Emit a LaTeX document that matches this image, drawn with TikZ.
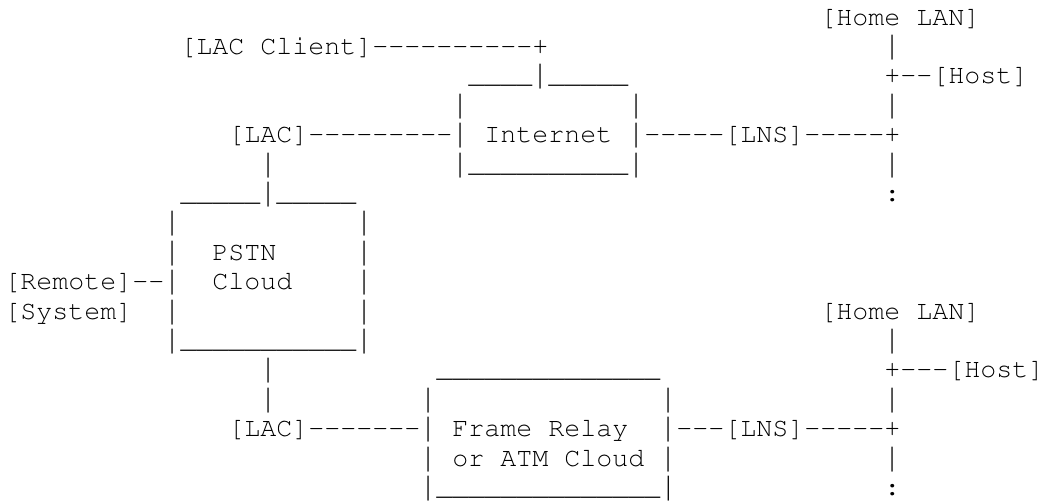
\documentclass[tikz,border=0pt]{standalone}
\usepackage{graphicx}
\usepackage{fontspec}
\newfontfamily\lmono{Liberation Mono}
\usepackage[T1]{fontenc}
\newcommand\cour{\fontencoding{T1}\fontfamily{pcr}\fontseries{m}\fontshape{n}\fontsize{10}{11}\selectfont}
\newcommand\dsh{-{}}
\newcommand\vb{\makebox[6pt]{\scalebox{0.6}[1]{\lmono|}}}
\newcommand\us{{\lmono\_}}
\begin{document}
\begin{tikzpicture}[
  txt/.style={anchor=base west, inner sep=0pt, outer sep=0pt,
    font=\cour, text=black}]
\useasboundingbox[fill=white] (0,0) rectangle (390.75pt,-188.25pt);
\begin{scope}[x=6pt, y=-11.025pt, shift={(1.6pt,-9.375pt)}]
% row 1
\node[txt] (homelanA) at (51,0) {[Home LAN]};
% row 2
\node[txt] (lacclient) at (11,1) {[LAC Client]\dsh\dsh\dsh\dsh\dsh\dsh\dsh\dsh\dsh\dsh+};
\node[txt] (vA1) at (55,1) {\vb};
% row 3
\node[txt] (inettop) at (29,2) {\us\us\us\us\vb\us\us\us\us\us};
\node[txt] (hostA) at (55,2) {+\dsh\dsh[Host]};
% row 4
\node[txt] (inetL1) at (28,3) {\vb};
\node[txt] (inetR1) at (39,3) {\vb};
\node[txt] (vA2) at (55,3) {\vb};
% row 5
\node[txt] (lacA) at (14,4) {[LAC]\dsh\dsh\dsh\dsh\dsh\dsh\dsh\dsh\dsh\vb};
\node[txt] (internet) at (30,4) {Internet};
\node[txt] (lnsA) at (39,4) {\vb\dsh\dsh\dsh\dsh\dsh[LNS]\dsh\dsh\dsh\dsh\dsh+};
% row 6
\node[txt] (vLacA) at (16,5) {\vb};
\node[txt] (inetbot) at (28,5) {\vb\us\us\us\us\us\us\us\us\us\us\vb};
\node[txt] (vA3) at (55,5) {\vb};
% row 7
\node[txt] (pstntop) at (11,6) {\us\us\us\us\us\vb\us\us\us\us\us};
\node[txt] (dotsA) at (55,6) {:};
% row 8
\node[txt] (pstnL1) at (10,7) {\vb};
\node[txt] (pstnR1) at (22,7) {\vb};
% row 9
\node[txt] (pstnL2) at (10,8) {\vb};
\node[txt] (pstn) at (13,8) {PSTN};
\node[txt] (pstnR2) at (22,8) {\vb};
% row 10
\node[txt] (remote) at (0,9) {[Remote]\dsh\dsh\vb};
\node[txt] (cloud) at (13,9) {Cloud};
\node[txt] (pstnR3) at (22,9) {\vb};
% row 11
\node[txt] (system) at (0,10) {[System]};
\node[txt] (pstnL4) at (10,10) {\vb};
\node[txt] (pstnR4) at (22,10) {\vb};
\node[txt] (homelanB) at (51,10) {[Home LAN]};
% row 12
\node[txt] (pstnbot) at (10,11) {\vb\us\us\us\us\us\us\us\us\us\us\us\vb};
\node[txt] (vB1) at (55,11) {\vb};
% row 13
\node[txt] (vLacB1) at (16,12) {\vb};
\node[txt] (frtop) at (27,12) {\us\us\us\us\us\us\us\us\us\us\us\us\us\us};
\node[txt] (hostB) at (55,12) {+\dsh\dsh\dsh[Host]};
% row 14
\node[txt] (vLacB2) at (16,13) {\vb};
\node[txt] (frL1) at (26,13) {\vb};
\node[txt] (frR1) at (41,13) {\vb};
\node[txt] (vB2) at (55,13) {\vb};
% row 15
\node[txt] (lacB) at (14,14) {[LAC]\dsh\dsh\dsh\dsh\dsh\dsh\dsh\vb};
\node[txt] (frame) at (28,14) {Frame Relay};
\node[txt] (lnsB) at (41,14) {\vb\dsh\dsh\dsh[LNS]\dsh\dsh\dsh\dsh\dsh+};
% row 16
\node[txt] (frL3) at (26,15) {\vb};
\node[txt] (atm) at (28,15) {or ATM Cloud};
\node[txt] (frR3) at (41,15) {\vb};
\node[txt] (vB3) at (55,15) {\vb};
% row 17
\node[txt] (frbot) at (26,16) {\vb\us\us\us\us\us\us\us\us\us\us\us\us\us\us\vb};
\node[txt] (dotsB) at (55,16) {:};
\end{scope}
\end{tikzpicture}
\end{document}
